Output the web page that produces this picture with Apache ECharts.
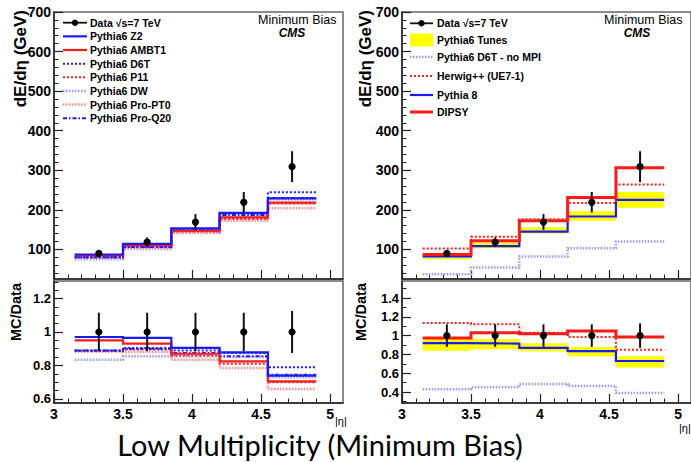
<!DOCTYPE html>
<html><head><meta charset="utf-8">
<script src="https://cdn.jsdelivr.net/npm/echarts@6/dist/echarts.min.js"></script>
<style>html,body{margin:0;padding:0;background:#fff}#c{width:691px;height:462px}</style>
</head><body><div id="c"></div>
<script>
// ---- data ----
const binEdges   = [3.15, 3.5, 3.85, 4.2, 4.55, 4.9];
const etaCenters = [3.325, 3.675, 4.025, 4.375, 4.725];

const dataE      = [90, 118, 169, 219, 309];
const dataEErr   = [8, 12, 20, 26, 39];
const dataRatio  = [1, 1, 1, 1, 1];
const dataRatioErrL = [0.115, 0.115, 0.115, 0.115, 0.125];
const dataRatioErrR = [0.12, 0.12, 0.12, 0.12, 0.13];

// left panel: Pythia6 tunes
const z2E     = [87, 114, 153, 192, 229];
const ambt1E  = [85.5, 110, 147, 181, 218];
const d6tE    = [80, 107, 150, 192, 244];
const p11E    = [80, 106, 145, 177, 216];
const dwE     = [75, 101, 144, 186, 226];
const proPT0E = [80, 104, 141, 172, 204];
const proQ20E = [80, 106, 148, 187, 230];

const z2R     = [0.97, 0.965, 0.905, 0.878, 0.74];
const ambt1R  = [0.95, 0.93, 0.87, 0.825, 0.705];
const d6tR    = [0.89, 0.905, 0.89, 0.875, 0.79];
const p11R    = [0.885, 0.895, 0.86, 0.81, 0.70];
const dwR     = [0.835, 0.855, 0.855, 0.85, 0.73];
const proPT0R = [0.885, 0.88, 0.835, 0.785, 0.66];
const proQ20R = [0.89, 0.9, 0.875, 0.855, 0.745];

// right panel: other generators
const dipsyE    = [87, 122, 172, 231, 306];
const herwigE   = [102, 132, 176, 217, 264];
const pythia8E  = [82, 108, 145, 183, 225];
const tunesLoE  = [75, 103, 140, 172, 205];
const tunesHiE  = [90, 117, 156, 196, 245];
const noMpiE    = [37, 54, 82, 103, 120];

const dipsyR    = [0.975, 1.03, 1.02, 1.05, 0.985];
const herwigR   = [1.135, 1.12, 1.03, 0.985, 0.85];
const pythia8R  = [0.92, 0.915, 0.87, 0.835, 0.73];
const tunesLoR  = [0.84, 0.855, 0.83, 0.78, 0.66];
const tunesHiR  = [0.965, 0.965, 0.92, 0.88, 0.78];
const noMpiR    = [0.43, 0.45, 0.485, 0.465, 0.39];

// ticks
const xMajor = [3, 3.5, 4, 4.5, 5];
const xMinor = [3.1,3.2,3.3,3.4,3.6,3.7,3.8,3.9,4.1,4.2,4.3,4.4,4.6,4.7,4.8,4.9,5.1];
const eMajor = [100, 200, 300, 400, 500, 600, 700];
const eMinor = [40,60,80,120,140,160,180,220,240,260,280,320,340,360,380,420,440,460,480,520,540,560,580,620,640,660,680];
const rMajorL = [0.6, 0.8, 1, 1.2];
const rMinorL = [0.65,0.7,0.75,0.85,0.9,0.95,1.05,1.1,1.15,1.25,1.3];
const rMajorR = [0.4, 0.6, 0.8, 1, 1.2, 1.4];
const rMinorR = [0.3,0.5,0.7,0.9,1.1,1.3,1.5];

// ---- layout ----
const XMIN = 3, XMAX = 5.094;
const FONT = '"Liberation Sans", Arial, Helvetica, sans-serif';
const grids = [
  {left: 54,  top: 12,  width: 289, height: 267},
  {left: 54,  top: 281, width: 289, height: 122},
  {left: 402, top: 12,  width: 289, height: 267},
  {left: 402, top: 281, width: 289, height: 122}
].map(g => Object.assign(g, {show: true, borderColor: '#666', borderWidth: 1.5, backgroundColor: 'rgba(0,0,0,0)'}));

const yRanges = [[25, 700], [0.576, 1.3045], [25, 700], [0.283, 1.581]];
const yMaj = [eMajor, rMajorL, eMajor, rMajorR];
const yMin = [eMinor, rMinorL, eMinor, rMinorR];
const yLabelFont = [14, 13, 14, 13];

const xAxis = [], yAxis = [];
for (let g = 0; g < 4; g++) {
  const bottom = (g % 2 === 1);
  xAxis.push({type: 'value', gridIndex: g, min: XMIN, max: XMAX, position: 'bottom',
    axisLine: {show: true, onZero: false, lineStyle: {color: '#222', width: 1.5}},
    axisTick: {show: true, inside: true, length: 9, customValues: xMajor, lineStyle: {color: '#222', width: 1.2}},
    axisLabel: {show: bottom, customValues: xMajor, color: '#000', fontWeight: 'bold', fontSize: 14, fontFamily: FONT, margin: 4},
    splitLine: {show: false}});
  xAxis.push({type: 'value', gridIndex: g, min: XMIN, max: XMAX, position: 'bottom',
    axisLine: {show: false},
    axisTick: {show: true, inside: true, length: 4.5, customValues: xMinor, lineStyle: {color: '#222', width: 1}},
    axisLabel: {show: false}, splitLine: {show: false}});
  yAxis.push({type: 'value', gridIndex: g, min: yRanges[g][0], max: yRanges[g][1], position: 'left',
    axisLine: {show: true, onZero: false, lineStyle: {color: '#222', width: 1.5}},
    axisTick: {show: true, inside: true, length: 9, customValues: yMaj[g], lineStyle: {color: '#222', width: 1.2}},
    axisLabel: {show: true, customValues: yMaj[g], color: '#000', fontWeight: 'bold', fontSize: yLabelFont[g], fontFamily: FONT, margin: 3},
    splitLine: {show: false}});
  yAxis.push({type: 'value', gridIndex: g, min: yRanges[g][0], max: yRanges[g][1], position: 'left',
    axisLine: {show: false},
    axisTick: {show: true, inside: true, length: 4.5, customValues: yMin[g], lineStyle: {color: '#222', width: 1}},
    axisLabel: {show: false}, splitLine: {show: false}});
}

function stepPts(vals) {
  const pts = [];
  vals.forEach((v, i) => { pts.push([binEdges[i], v]); pts.push([binEdges[i + 1], v]); });
  return pts;
}
function hist(g, name, vals, color, width, dash, z) {
  return {type: 'line', name, xAxisIndex: 2 * g, yAxisIndex: 2 * g, data: stepPts(vals),
    symbol: 'none', silent: true, animation: false, z: z || 3, clip: true,
    lineStyle: {color, width, type: dash || 'solid', cap: 'butt', join: 'miter'}};
}
function band(g, name, lo, hi) {
  return {type: 'custom', name, xAxisIndex: 2 * g, yAxisIndex: 2 * g, silent: true, animation: false, z: 1,
    data: lo.map((v, i) => [binEdges[i], binEdges[i + 1], v, hi[i]]),
    renderItem(params, api) {
      const p0 = api.coord([api.value(0), api.value(3)]);
      const p1 = api.coord([api.value(1), api.value(2)]);
      return {type: 'rect', shape: {x: p0[0], y: p0[1], width: p1[0] - p0[0], height: p1[1] - p0[1]},
        style: {fill: '#ffff00'}};
    }};
}
function points(g, vals, errs) {
  return {type: 'custom', name: 'Data', xAxisIndex: 2 * g, yAxisIndex: 2 * g, silent: true, animation: false, z: 10,
    data: etaCenters.map((x, i) => [x, vals[i], errs[i]]),
    renderItem(params, api) {
      const x = api.value(0), v = api.value(1), e = api.value(2);
      const a = api.coord([x, v - e]), b = api.coord([x, v + e]), c = api.coord([x, v]);
      return {type: 'group', children: [
        {type: 'line', shape: {x1: a[0], y1: a[1], x2: b[0], y2: b[1]}, style: {stroke: '#111', lineWidth: 2}},
        {type: 'circle', shape: {cx: c[0], cy: c[1], r: 3.6}, style: {fill: '#000'}}
      ]};
    }};
}

const BLUE = '#1a1aff', RED = '#ff1a1a', LBLUE = '#9a9aff', LRED = '#ff8c8c';
const DOT = [2, 2], DDOT = [1.5, 1.5], DASHDOT = [4, 2, 1.5, 2];

const series = [];
// left top
series.push(hist(0, 'Pythia6 DW', dwE, LBLUE, 2.5, DDOT));
series.push(hist(0, 'Pythia6 Pro-PT0', proPT0E, LRED, 2.5, DDOT));
series.push(hist(0, 'Pythia6 P11', p11E, RED, 2, DOT));
series.push(hist(0, 'Pythia6 Pro-Q20', proQ20E, BLUE, 2, DASHDOT));
series.push(hist(0, 'Pythia6 D6T', d6tE, BLUE, 2, DOT));
series.push(hist(0, 'Pythia6 AMBT1', ambt1E, RED, 2.2));
series.push(hist(0, 'Pythia6 Z2', z2E, BLUE, 2.2));
series.push(points(0, dataE, dataEErr));
// left bottom
series.push(hist(1, 'Pythia6 DW', dwR, LBLUE, 2.5, DDOT));
series.push(hist(1, 'Pythia6 Pro-PT0', proPT0R, LRED, 2.5, DDOT));
series.push(hist(1, 'Pythia6 P11', p11R, RED, 2, DOT));
series.push(hist(1, 'Pythia6 Pro-Q20', proQ20R, BLUE, 2, DASHDOT));
series.push(hist(1, 'Pythia6 D6T', d6tR, BLUE, 2, DOT));
series.push(hist(1, 'Pythia6 AMBT1', ambt1R, RED, 2.2));
series.push(hist(1, 'Pythia6 Z2', z2R, BLUE, 2.2));
series.push(points(1, dataRatio, dataRatioErrL));
// right top
series.push(band(2, 'Pythia6 Tunes', tunesLoE, tunesHiE));
series.push(hist(2, 'Pythia6 D6T - no MPI', noMpiE, LBLUE, 2.5, DDOT));
series.push(hist(2, 'Pythia 8', pythia8E, BLUE, 2.2));
series.push(hist(2, 'Herwig++ (UE7-1)', herwigE, RED, 2, DOT));
series.push(hist(2, 'DIPSY', dipsyE, RED, 3, null, 4));
series.push(points(2, dataE, dataEErr));
// right bottom
series.push(band(3, 'Pythia6 Tunes', tunesLoR, tunesHiR));
series.push(hist(3, 'Pythia6 D6T - no MPI', noMpiR, LBLUE, 2.5, DDOT));
series.push(hist(3, 'Pythia 8', pythia8R, BLUE, 2.2));
series.push(hist(3, 'Herwig++ (UE7-1)', herwigR, RED, 2, DOT));
series.push(hist(3, 'DIPSY', dipsyR, RED, 3, null, 4));
series.push(points(3, dataRatio, dataRatioErrR));

// ---- legends / labels as graphic text ----
const graphic = [];
function txt(text, x, y, font, align, extra) {
  return Object.assign({type: 'text', x, y, silent: true, z: 100,
    style: {text, font, fill: '#000', align: align || 'left', verticalAlign: 'middle',
      textAlign: align || 'left', textVerticalAlign: 'middle'}}, extra || {});
}
function legLine(x1, x2, y, color, width, dash) {
  return {type: 'line', silent: true, z: 100, shape: {x1, y1: y, x2, y2: y},
    style: {stroke: color, lineWidth: width, lineDash: dash || null}};
}
const LF = 'bold 10.5px ' + FONT;
const leftLeg = [
  ['Data √s=7 TeV', 'data'],
  ['Pythia6 Z2', BLUE, 2.2, null],
  ['Pythia6 AMBT1', RED, 2.2, null],
  ['Pythia6 D6T', BLUE, 2, DOT],
  ['Pythia6 P11', RED, 2, DOT],
  ['Pythia6 DW', LBLUE, 2.5, DDOT],
  ['Pythia6 Pro-PT0', LRED, 2.5, DDOT],
  ['Pythia6 Pro-Q20', BLUE, 2, DASHDOT]
];
leftLeg.forEach((it, i) => {
  const y = 22.7 + i * 13.65;
  if (it[1] === 'data') {
    graphic.push(legLine(63, 87, y, '#111', 1.8));
    graphic.push({type: 'circle', silent: true, z: 101, shape: {cx: 75, cy: y, r: 3.2}, style: {fill: '#000'}});
  } else graphic.push(legLine(63, 87, y, it[1], it[2], it[3]));
  graphic.push(txt(it[0], 90, y, LF));
});
const rightLeg = [
  ['Data √s=7 TeV', 'data', 23.3],
  ['Pythia6 Tunes', 'band', 40],
  ['Pythia6 D6T - no MPI', LBLUE, 2.5, DDOT, 57],
  ['Herwig++ (UE7-1)', RED, 2, DOT, 76],
  ['Pythia 8', BLUE, 2.2, null, 95],
  ['DIPSY', RED, 3, null, 112]
];
rightLeg.forEach(it => {
  let y;
  if (it[1] === 'data') {
    y = it[2];
    graphic.push(legLine(410, 433, y, '#111', 1.8));
    graphic.push({type: 'circle', silent: true, z: 101, shape: {cx: 421.5, cy: y, r: 3.2}, style: {fill: '#000'}});
  } else if (it[1] === 'band') {
    y = it[2];
    graphic.push({type: 'rect', silent: true, z: 100, shape: {x: 410, y: y - 6.5, width: 23, height: 13}, style: {fill: '#ffff00'}});
  } else {
    y = it[4];
    graphic.push(legLine(410, 433, y, it[1], it[2], it[3]));
  }
  graphic.push(txt(it[0], 437, y, LF));
});

graphic.push(txt('Minimum Bias', 258, 20, '12.5px ' + FONT));
graphic.push(txt('CMS', 292, 33, 'italic bold 12px ' + FONT, 'center'));
graphic.push(txt('Minimum Bias', 604, 20, '12.5px ' + FONT));
graphic.push(txt('CMS', 637, 33, 'italic bold 12px ' + FONT, 'center'));

graphic.push(txt('dE/dη (GeV)', 20, 10, 'bold 17px ' + FONT, 'right', {rotation: Math.PI / 2}));
graphic.push(txt('dE/dη (GeV)', 365, 10, 'bold 17px ' + FONT, 'right', {rotation: Math.PI / 2}));
graphic.push(txt('MC/Data', 16, 283, 'bold 14.5px ' + FONT, 'right', {rotation: Math.PI / 2}));
graphic.push(txt('MC/Data', 361, 283, 'bold 14.5px ' + FONT, 'right', {rotation: Math.PI / 2}));

graphic.push(txt('|η|', 335, 421, '11px ' + FONT));
graphic.push(txt('|η|', 679, 428, '11px ' + FONT));

graphic.push(txt('Low Multiplicity (Minimum Bias)', 320, 444, '29px Lato, "Open Sans", sans-serif', 'center'));

const chart = echarts.init(document.getElementById('c'), null, {renderer: 'svg', width: 691, height: 462});
chart.setOption({
  animation: false,
  backgroundColor: '#fff',
  grid: grids,
  xAxis, yAxis, series, graphic
});
</script></body></html>
